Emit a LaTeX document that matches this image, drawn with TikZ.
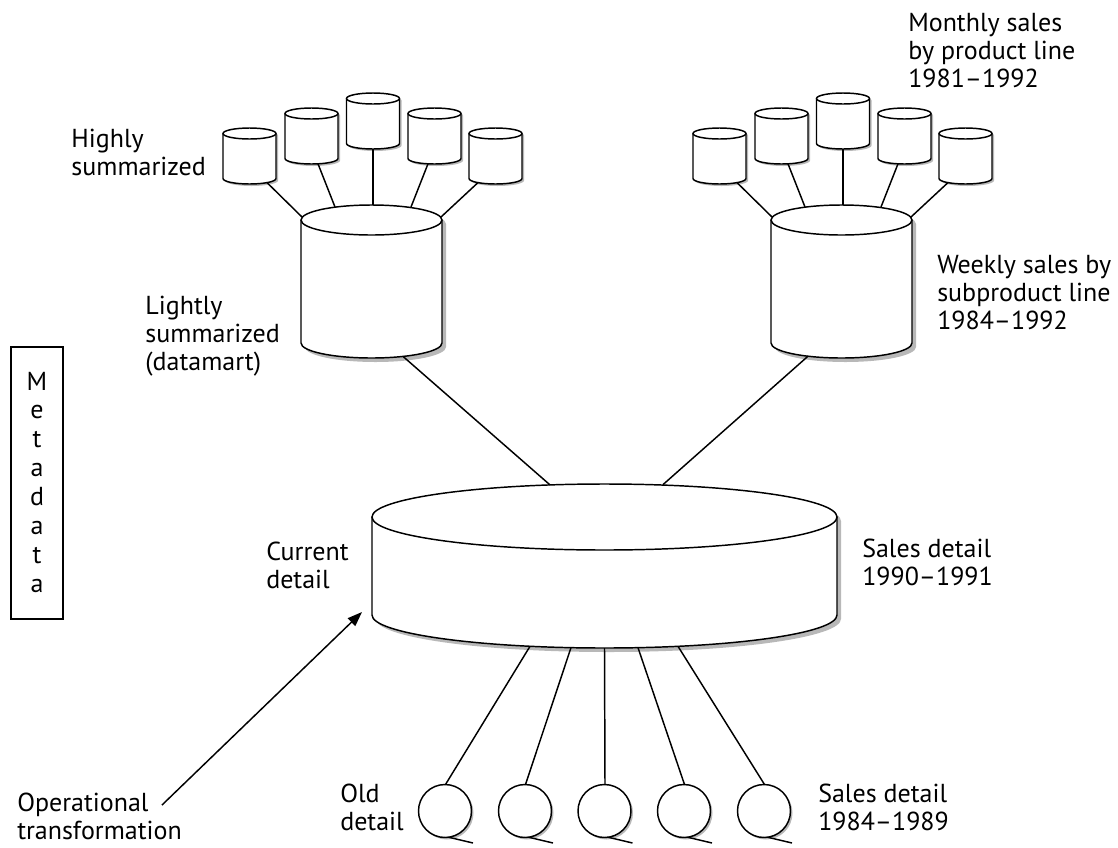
\documentclass[tikz,border=0pt]{standalone}
\usepackage{fontspec}
\setmainfont{PT Sans}
\usetikzlibrary{arrows.meta}
\newcommand\cylbody[5]{(#1-#4,#2) -- (#1-#4,#3) .. controls (#1-#4,#3+0.5523*#5) and (#1-0.5523*#4,#3+#5) .. (#1,#3+#5) .. controls (#1+0.5523*#4,#3+#5) and (#1+#4,#3+0.5523*#5) .. (#1+#4,#3) -- (#1+#4,#2)}
\newcommand\drawcyl[6]{% cx, topcenter, botcenter, rx, ry, shadow offset
  \fill[shadowgray,shift={(#6,#6)}] \cylbody{#1}{#2}{#3}{#4}{#5} -- cycle;
  \fill[shadowgray,shift={(#6,#6)}] (#1,#2) ellipse [x radius=#4, y radius=#5];
  \fill[white] \cylbody{#1}{#2}{#3}{#4}{#5} -- cycle;
  \draw[ln] \cylbody{#1}{#2}{#3}{#4}{#5};
  \filldraw[ln,fill=white] (#1,#2) ellipse [x radius=#4, y radius=#5];
}
\definecolor{shadowgray}{gray}{0.72}
\begin{document}
\begin{tikzpicture}[x=0.75pt,y=-0.75pt,
  ln/.style={line width=1.1pt,black},
  lbl/.style={font=\fontsize{19.5}{21}\selectfont,align=left,inner sep=0pt},
  meta/.style={font=\fontsize{19.5}{21}\selectfont,inner sep=0pt,anchor=base}]
\useasboundingbox (0,0) rectangle (1118,847);
% ---------- small cylinders (left and right groups)
\foreach \g in {0,470}{
  \foreach \cx/\t in {249.5/128,311.5/108,373/93,434.5/108,495.5/128}{
    \drawcyl{\cx+\g}{\t+5.5}{\t+50.5}{26.5}{5.5}{2}
  }
}
% ---------- large cylinders
\drawcyl{371.5}{220}{343}{70.5}{15}{4}
\drawcyl{841.5}{220}{343}{70.5}{15}{4}
% ---------- central cylinder
\drawcyl{604.5}{517}{615}{232.5}{33}{4}
% ---------- old detail (circles)
\foreach \i/\cx in {1/445,2/525,3/604.5,4/684,5/764}{
  \fill[shadowgray] (\cx+2,811+2) circle [radius=26.5];
  \filldraw[ln,fill=white] (\cx,811) circle [radius=26.5];
  \draw[ln] (\cx+4,837.3) -- (\cx+28,843);
  \coordinate (c\i) at (\cx+0.5,784.5);
}
% ---------- connector coordinates
\foreach \g/\s in {0/L,470/R}{
  \coordinate (\s s1) at (267+\g,182.6);
  \coordinate (\s s2) at (318+\g,163.8);
  \coordinate (\s s3) at (373+\g,149);
  \coordinate (\s s4) at (428+\g,163.8);
  \coordinate (\s s5) at (478+\g,182.6);
  \coordinate (\s b1) at (302+\g,217);
  \coordinate (\s b2) at (335+\g,207);
  \coordinate (\s b3) at (373+\g,205);
  \coordinate (\s b4) at (411+\g,207);
  \coordinate (\s b5) at (441+\g,217);
}
\foreach \s in {L,R}{
  \foreach \k in {1,...,5}{ \draw[ln] (\s s\k) -- (\s b\k); }
}
\coordinate (Lbot) at (403,356.4);
\coordinate (Rbot) at (808,356.2);
\coordinate (Ctl) at (550,484.9);
\coordinate (Ctr) at (663,484.6);
\draw[ln] (Lbot) -- (Ctl);
\draw[ln] (Rbot) -- (Ctr);
\coordinate (Cb1) at (530,646.3);
\coordinate (Cb2) at (571,647.6);
\coordinate (Cb3) at (604.5,648);
\coordinate (Cb4) at (638,647.7);
\coordinate (Cb5) at (678,646.3);
\foreach \k in {1,...,5}{ \draw[ln] (Cb\k) -- (c\k); }
% ---------- arrow
\coordinate (opfrom) at (162,805);
\coordinate (opto) at (362,612);
\draw[ln,-{Triangle[length=11pt,width=8pt]}] (opfrom) -- (opto);
% ---------- metadata box
\draw[line width=0.9pt] (11,347) rectangle (63,619);
\foreach \ch [count=\n from 0] in {M,e,t,a,d,a,t,a}{
  \node[meta] (m\n) at (37,390+\n*28.86) {\ch};
}
% ---------- labels (anchor = baseline of last line)
\node[lbl,anchor=base west] (monthly) at (908,87) {Monthly sales\\by product line\\1981–1992};
\node[lbl,anchor=base east] (highly) at (206,175) {Highly\\summarized};
\node[lbl,anchor=base east] (lightly) at (280,370) {Lightly\\summarized\\(datamart)};
\node[lbl,anchor=base west] (weekly) at (937,329) {Weekly sales by\\subproduct line\\1984–1992};
\node[lbl,anchor=base west] (current) at (266,588) {Current\\detail};
\node[lbl,anchor=base west] (sd90) at (862,585) {Sales detail\\1990–1991};
\node[lbl,anchor=base west] (oper) at (17,839) {Operational\\transformation};
\node[lbl,anchor=base west] (old) at (340,830) {Old\\detail};
\node[lbl,anchor=base west] (sd84) at (818,830) {Sales detail\\1984–1989};
\end{tikzpicture}
\end{document}
